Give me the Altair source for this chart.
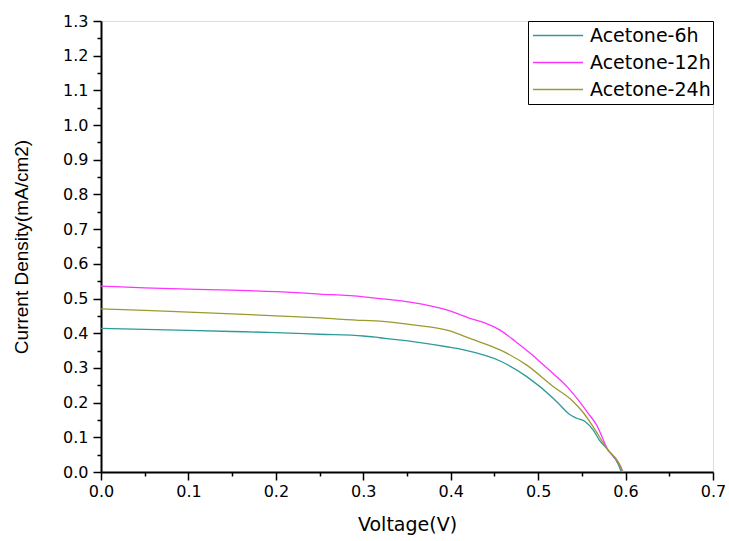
import altair as alt
import pandas as pd

series_names = ["Acetone-6h", "Acetone-12h", "Acetone-24h"]
series_colors = ["#2E9A9A", "#FF33FF", "#9A9A2E"]

v_6h = [0, 0.05, 0.1, 0.15, 0.2, 0.25, 0.3, 0.319, 0.357, 0.3955, 0.415, 0.4565, 0.487, 0.5175,
        0.525, 0.535, 0.544, 0.554, 0.563, 0.57, 0.58, 0.592, 0.595]
j_6h = [0.414, 0.411, 0.408, 0.405, 0.402, 0.397, 0.392, 0.387, 0.376, 0.361, 0.352, 0.32, 0.275, 0.212,
        0.193, 0.168, 0.155, 0.145, 0.121, 0.092, 0.063, 0.02, 0.0]

v_12h = [0, 0.05, 0.1, 0.15, 0.2, 0.25, 0.3, 0.319, 0.357, 0.3955, 0.422, 0.439, 0.4565, 0.474, 0.491,
         0.502, 0.518, 0.533, 0.546, 0.557, 0.567, 0.58, 0.588, 0.594, 0.597]
j_12h = [0.536, 0.531, 0.527, 0.524, 0.52, 0.513, 0.505, 0.50, 0.488, 0.467, 0.443, 0.430, 0.409, 0.376, 0.342,
         0.318, 0.282, 0.246, 0.207, 0.17, 0.135, 0.063, 0.04, 0.018, 0.0]

v_24h = [0, 0.05, 0.1, 0.15, 0.2, 0.25, 0.3, 0.319, 0.357, 0.399, 0.422, 0.4565, 0.487, 0.5175,
         0.5385, 0.552, 0.563, 0.58, 0.59, 0.597]
j_24h = [0.470, 0.466, 0.461, 0.456, 0.450, 0.444, 0.437, 0.435, 0.424, 0.407, 0.385, 0.352, 0.308, 0.246,
         0.207, 0.17, 0.13, 0.063, 0.035, 0.0]

x_ticks = [round(i * 0.05, 2) for i in range(15)]
y_ticks = [round(i * 0.05, 2) for i in range(27)]

rows = []
for name, vs, js in [(series_names[0], v_6h, j_6h), (series_names[1], v_12h, j_12h), (series_names[2], v_24h, j_24h)]:
    for i, (v, j) in enumerate(zip(vs, js)):
        rows.append({"series": name, "V": v, "J": j, "order": i})
df = pd.DataFrame(rows)

major_test = "round(datum.value * 20) % 2 == 0"
label_expr = "round(datum.value * 20) % 2 == 0 ? format(datum.value, '.1f') : ''"

chart = alt.Chart(df).mark_line(strokeWidth=1.3, interpolate="monotone").encode(
    x=alt.X("V:Q", title="Voltage(V)",
            scale=alt.Scale(domain=[0, 0.7], nice=False, zero=False),
            axis=alt.Axis(values=x_ticks, labelExpr=label_expr, grid=False, labelFlush=False,
                          labelOverlap=False,
                          tickSize={"condition": {"test": major_test, "value": 8}, "value": 4},
                          tickColor="#000", tickWidth=1.5, domainColor="#000", domainWidth=2,
                          labelFont="DejaVu Sans", labelFontSize=16, labelColor="#000", labelPadding=3,
                          titleFont="DejaVu Sans", titleFontSize=19, titleFontWeight="normal",
                          titleColor="#000", titlePadding=16)),
    y=alt.Y("J:Q", title="Current Density(mA/cm2)",
            scale=alt.Scale(domain=[0, 1.3], nice=False, zero=False),
            axis=alt.Axis(values=y_ticks, labelExpr=label_expr, grid=False, labelFlush=False,
                          labelOverlap=False,
                          tickSize={"condition": {"test": major_test, "value": 8}, "value": 4},
                          tickColor="#000", tickWidth=1.5, domainColor="#000", domainWidth=2,
                          labelFont="DejaVu Sans", labelFontSize=16, labelColor="#000", labelPadding=5,
                          titleFont="Liberation Sans", titleFontSize=19, titleFontWeight="normal",
                          titleColor="#000", titlePadding=31)),
    color=alt.Color("series:N", sort=series_names,
                    scale=alt.Scale(domain=series_names, range=series_colors),
                    legend=alt.Legend(title=None, orient="none", legendX=427, legendY=0,
                                      symbolType="stroke", symbolSize=2500, symbolStrokeWidth=1.3,
                                      clipHeight=25,
                                      labelFont="DejaVu Sans", labelFontSize=19, labelColor="#000",
                                      fillColor="#fff", strokeColor="#000", padding=2,
                                      rowPadding=2, labelOffset=6, symbolOffset=2)),
    order="order:Q",
).properties(
    width=612, height=451,
    autosize=alt.AutoSizeParams(type="none"),
    padding={"left": 101, "top": 21, "right": 16, "bottom": 69},
).configure_view(
    stroke="#444", strokeWidth=1.5
).configure(background="white")

chart.save("out.html", embed_options={"renderer": "svg", "actions": False})
